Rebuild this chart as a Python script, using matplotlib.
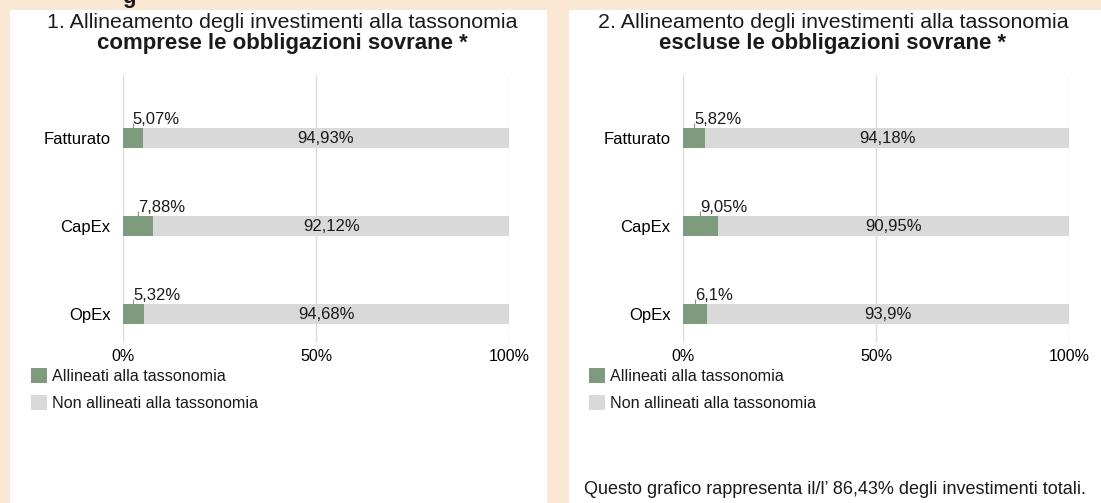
import matplotlib
matplotlib.use("Agg")
import matplotlib.pyplot as plt
from matplotlib.patches import Rectangle

# Data
categories = ['Fatturato', 'CapEx', 'OpEx']
incl_aligned = [5.07, 7.88, 5.32]
incl_not_aligned = [94.93, 92.12, 94.68]
excl_aligned = [5.82, 9.05, 6.1]
excl_not_aligned = [94.18, 90.95, 93.9]
x_ticks = [0, 50, 100]
legend_labels = ['Allineati alla tassonomia', 'Non allineati alla tassonomia']
titles = [
    ('1. Allineamento degli investimenti alla tassonomia', 'comprese le obbligazioni sovrane *'),
    ('2. Allineamento degli investimenti alla tassonomia', 'escluse le obbligazioni sovrane *'),
]
footnote = "Questo grafico rappresenta il/l\u2019 86,43% degli investimenti totali."

# Style
GREEN = '#7f9b7e'
GREY = '#d9d9d9'
PEACH = '#fae7d4'
TEXT = '#1a1a1a'
W, H = 1101, 503
FS = 12

plt.rcParams['font.family'] = ['Liberation Sans', 'DejaVu Sans']
plt.rcParams['text.color'] = TEXT


def fx(px):
    return px / W


def fy(py):
    return 1 - py / H


def pct(v):
    return f"{v:g}".replace('.', ',') + '%'


fig = plt.figure(figsize=(W / 100, H / 100), dpi=100, facecolor=PEACH)

# white panels
fig.patches.append(Rectangle((fx(10), 0), fx(547) - fx(10), fy(10), transform=fig.transFigure,
                             facecolor='white', edgecolor='none', zorder=-5))
fig.patches.append(Rectangle((fx(569), 0), 1 - fx(569), fy(10), transform=fig.transFigure,
                             facecolor='white', edgecolor='none', zorder=-5))

# cut-off heading above the panels
fig.text(fx(129), fy(3), 'g', fontsize=16, fontweight='bold', ha='center', va='baseline')

panels = [
    (123, 282, incl_aligned, incl_not_aligned, 31),
    (683, 833, excl_aligned, excl_not_aligned, 589),
]

bar_h = 0.227
for k, (x0, title_x, aligned, not_aligned, leg_x) in enumerate(panels):
    ax = fig.add_axes([fx(x0), fy(342), fx(386), (342 - 75) / H])
    ax.set_facecolor('none')
    ypos = list(range(len(categories)))
    b1 = ax.barh(ypos, aligned, height=bar_h, color=GREEN, zorder=3)
    b2 = ax.barh(ypos, not_aligned, left=aligned, height=bar_h, color=GREY, zorder=3)

    for i, (a, n) in enumerate(zip(aligned, not_aligned)):
        top = i - bar_h / 2
        ax.vlines(a / 2, top - 0.06, top, color=GREEN, lw=0.8, zorder=4)
        ax.annotate(pct(a), xy=(a / 2, top), xytext=(0, 0.5), textcoords='offset points',
                    ha='left', va='bottom', fontsize=FS)
        ax.text(a + n / 2, i, pct(n), ha='center', va='center', fontsize=FS, zorder=5)

    ax.set_xlim(0, 100)
    ax.set_ylim(2.318, -0.716)
    ax.set_xticks(x_ticks)
    ax.set_xticklabels([f"{t}%" for t in x_ticks], fontsize=11.5)
    ax.set_yticks(ypos)
    ax.set_yticklabels(categories, fontsize=FS)
    ax.tick_params(length=0)
    ax.tick_params(axis='x', pad=5)
    ax.tick_params(axis='y', pad=9)
    ax.xaxis.grid(True, color='#dcdcdc', lw=1, zorder=0)
    ax.set_axisbelow(True)
    for s in ax.spines.values():
        s.set_visible(False)

    ax.legend([b1, b2], legend_labels, loc='upper left',
              bbox_to_anchor=(fx(leg_x), fy(368)), bbox_transform=fig.transFigure,
              frameon=False, fontsize=11.6, handlelength=1.0, handleheight=1.08,
              handletextpad=0.3, labelspacing=0.68, borderpad=0, borderaxespad=0)

    fig.text(fx(title_x), fy(22), titles[k][0], fontsize=15.4, ha='center', va='center')
    fig.text(fx(title_x), fy(44), titles[k][1], fontsize=16, fontweight='bold',
             ha='center', va='center')

fig.text(fx(835), fy(490), footnote, fontsize=13, ha='center', va='center')

fig.savefig('out.png', dpi=100, facecolor=PEACH)
